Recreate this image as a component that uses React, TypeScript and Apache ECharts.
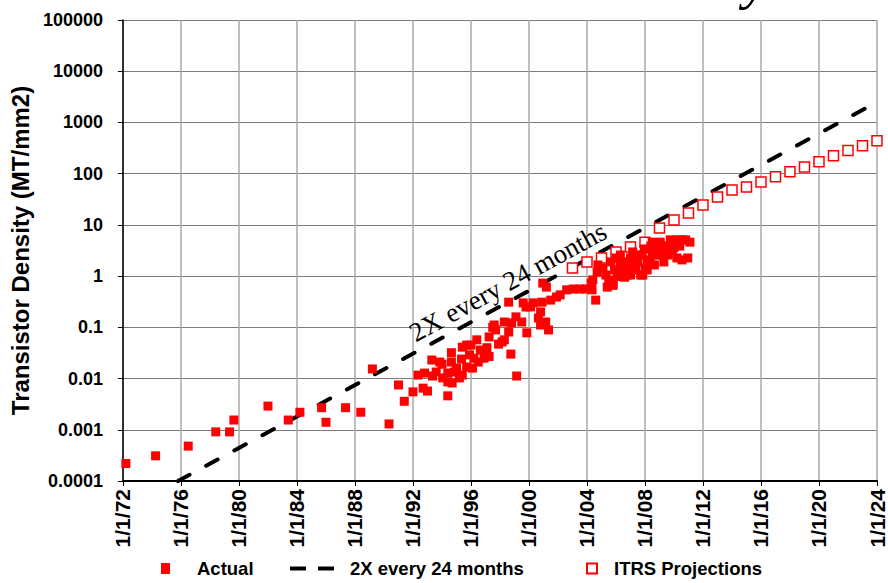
import React, { useEffect, useRef } from "react";
import * as echarts from "echarts";

// ---------- data ----------
const xTickLabels = ["1/1/72", "1/1/76", "1/1/80", "1/1/84", "1/1/88", "1/1/92", "1/1/96", "1/1/00", "1/1/04", "1/1/08", "1/1/12", "1/1/16", "1/1/20", "1/1/24"];
const yTickLabels = ["0.0001", "0.001", "0.01", "0.1", "1", "10", "100", "1000", "10000", "100000"];

const actualYears = [
  1972.2, 1974.25, 1976.5, 1978.4, 1979.35, 1979.65, 1982.0, 1983.4, 1984.2, 1985.7, 1986.0, 1987.35, 1988.4, 1989.2, 1990.35, 1991.0, 1991.4,
  1992.0, 1992.35, 1992.8, 1992.7, 1993.0, 1993.3, 1993.35, 1993.6, 1993.85, 1994.0, 1994.05, 1994.4, 1994.4, 1994.4, 1994.65, 1994.65, 1994.7, 1994.85,
  1995.0, 1995.2, 1995.35, 1995.4, 1995.4, 1995.7, 1995.7, 1995.9, 1996.0, 1996.1, 1996.2, 1996.4, 1996.5, 1996.65, 1996.9, 1997.1, 1997.25, 1997.25,
  1997.5, 1997.6, 1997.7, 1997.9, 1998.15, 1998.3, 1998.3, 1998.6, 1998.6, 1998.75, 1998.8, 1999.1, 1999.15, 1999.5, 1999.6, 1999.8, 1999.85,
  2000.1, 2000.3, 2000.65, 2000.8, 2000.8, 2000.9, 2000.95, 2001.15, 2001.2, 2001.35, 2001.5, 2001.9, 2002.15, 2002.6, 2003.05, 2003.5, 2003.9,
  2004.3, 2004.35, 2004.4, 2004.6, 2004.7, 2004.75, 2005.1, 2005.3, 2005.4, 2005.5, 2005.65, 2005.8, 2006.0, 2006.15, 2006.3, 2006.45, 2006.6,
  2006.8, 2007.0, 2007.0, 2007.15, 2007.35, 2007.5, 2007.7, 2007.8, 2007.95, 2008.15, 2008.15, 2008.4, 2008.5, 2008.5, 2008.65, 2008.85, 2009.05,
  2009.2, 2009.3, 2009.5, 2009.75, 2009.9, 2010.0, 2010.2, 2010.2, 2010.4, 2010.55, 2010.55, 2010.8, 2010.95, 2011.1,
  2005.9, 2006.3, 2006.8, 2007.3, 2007.6, 2008.0, 2008.35, 2008.7, 2009.0, 2009.4, 2009.2, 2010.0, 2009.6, 2007.85, 2006.6, 2006.1, 2007.0, 2008.5, 2005.8
];
const actualValues = [
  0.00022, 0.00031, 0.00048, 0.00091, 0.00091, 0.00155, 0.0029, 0.00155, 0.0022, 0.0027, 0.0014, 0.0027, 0.0022, 0.0154, 0.0013, 0.0075, 0.0036,
  0.0055, 0.0117, 0.0128, 0.0065, 0.0057, 0.023, 0.0112, 0.0134, 0.021, 0.019, 0.0103, 0.0128, 0.0086, 0.0046, 0.032, 0.021, 0.0082, 0.0134,
  0.016, 0.0103, 0.024, 0.041, 0.0117, 0.0168, 0.045, 0.029, 0.045, 0.016, 0.025, 0.057, 0.021, 0.036, 0.025, 0.04, 0.065, 0.027,
  0.1, 0.111, 0.089, 0.047, 0.052, 0.127, 0.057, 0.081, 0.31, 0.03, 0.122, 0.16, 0.0112, 0.127, 0.3, 0.25, 0.078,
  0.25, 0.3, 0.152, 0.2, 0.111, 0.31, 0.73, 0.127, 0.61, 0.089, 0.34, 0.39, 0.43, 0.54, 0.56, 0.56, 0.56,
  0.73, 0.54, 0.84, 0.34, 1.2, 1.65, 1.44, 1.05, 0.61, 0.84, 1.89, 0.73, 2.26, 1.32, 2.58, 1.89, 1.32,
  1.65, 2.26, 1.05, 2.96, 1.32, 1.89, 1.05, 2.58, 3.39, 1.89, 1.32, 3.87, 2.58, 4.6, 1.65, 3.39, 4.6,
  2.58, 1.89, 3.87, 5.1, 3.2, 4.6, 5.1, 2.26, 3.87, 5.1, 2.07, 5.1, 2.26, 4.6,
  1.32, 1.65, 1.05, 1.89, 2.58, 1.44, 2.07, 2.58, 3.2, 3.2, 3.87, 3.6, 2.58, 1.05, 0.95, 0.98, 1.44, 3.39, 0.66
];

const trendYears = [1975.8, 2024];
const trendValues = [0.0001, 2500];

const itrsYears = [2003, 2004, 2005, 2006, 2007, 2008, 2009, 2010, 2011, 2012, 2013, 2014, 2015, 2016, 2017, 2018, 2019, 2020, 2021, 2022, 2023, 2024];
const itrsValues = [1.44, 1.89, 2.26, 2.96, 3.7, 4.6, 8.7, 12.5, 17, 24.5, 35, 48, 55, 69, 87, 109, 135, 170, 223, 282, 350, 440];

const SANS = '"Liberation Sans", Arial, sans-serif';
const SERIF = '"Liberation Serif", "Times New Roman", serif';

export default function App() {
  const ref = useRef<HTMLDivElement>(null);
  useEffect(() => {
    if (!ref.current) return;
    const chart = echarts.init(ref.current, undefined, { renderer: "svg" });
    const actual = actualYears.map((y, i) => [y, actualValues[i]]);
    const trend = trendYears.map((y, i) => [y, trendValues[i]]);
    const itrs = itrsYears.map((y, i) => [y, itrsValues[i]]);
    const legendText = { fontFamily: SANS, fontWeight: "bold" as const, fontSize: 18.5, color: "#000" };
    chart.setOption({
      animation: false,
      backgroundColor: "#fff",
      grid: { left: 115, right: 11, top: 20, bottom: 102, containLabel: false },
      xAxis: {
        type: "value",
        min: 1972,
        max: 2024,
        interval: 4,
        axisLine: { show: true, onZero: false, lineStyle: { color: "#000", width: 2 } },
        axisTick: { show: true, length: 5, lineStyle: { color: "#000", width: 1 } },
        splitLine: { show: true, lineStyle: { color: "#a8a8a8", width: 1.5 } },
        axisLabel: {
          rotate: 90,
          margin: 8,
          fontFamily: SANS,
          fontWeight: "bold",
          fontSize: 21,
          color: "#000",
          formatter: (v: number) => xTickLabels[Math.round((v - 1972) / 4)] ?? "",
        },
      },
      yAxis: {
        type: "log",
        logBase: 10,
        min: 0.0001,
        max: 100000,
        name: "Transistor Density (MT/mm2)",
        nameLocation: "middle",
        nameGap: 86,
        nameTextStyle: { fontFamily: SANS, fontWeight: "bold", fontSize: 24, color: "#000" },
        axisLine: { show: true, lineStyle: { color: "#000", width: 1.5 } },
        axisTick: { show: true, length: 5, lineStyle: { color: "#000", width: 1 } },
        minorTick: { show: false },
        splitLine: { show: true, lineStyle: { color: "#7a7a7a", width: 1 } },
        axisLabel: {
          margin: 20,
          fontFamily: SANS,
          fontWeight: "bold",
          fontSize: 18,
          color: "#000",
          formatter: (v: number) => yTickLabels[Math.round(Math.log10(v)) + 4] ?? "",
        },
      },
      legend: [
        {
          data: ["Actual"],
          left: 161,
          top: 559,
          padding: 0,
          itemWidth: 9,
          itemHeight: 11,
          textStyle: { ...legendText, padding: [0, 0, 0, 22] },
        },
        {
          data: [{ name: "2X every 24 months", icon: "path://M0,0H16V4H0Z M28,0H44V4H28Z" }],
          left: 290,
          top: 559,
          padding: 0,
          itemWidth: 44,
          itemHeight: 4,
          textStyle: { ...legendText, padding: [0, 0, 0, 11] },
        },
        {
          data: ["ITRS Projections"],
          left: 586,
          top: 559,
          padding: 0,
          itemWidth: 10,
          itemHeight: 10,
          textStyle: { ...legendText, padding: [0, 0, 0, 12] },
        },
      ],
      series: [
        {
          name: "2X every 24 months",
          type: "line",
          data: trend,
          symbol: "none",
          itemStyle: { color: "#000" },
          lineStyle: { color: "#000", width: 4, type: [13, 19], cap: "round" },
          z: 3,
        },
        {
          name: "ITRS Projections",
          type: "scatter",
          data: itrs,
          symbol: "rect",
          symbolSize: 10,
          itemStyle: { color: "#fff", borderColor: "#ff0000", borderWidth: 1.5, opacity: 1 },
          z: 4,
        },
        {
          name: "Actual",
          type: "scatter",
          data: actual,
          symbol: "rect",
          symbolSize: 9,
          itemStyle: { color: "#ff0000", opacity: 1 },
          z: 5,
        },
      ],
      graphic: [
        {
          type: "text",
          x: 508,
          y: 282,
          rotation: 0.5,
          style: {
            text: "2X every 24 months",
            fontFamily: SERIF,
            fontSize: 27,
            fill: "#000",
            textAlign: "center",
            textVerticalAlign: "middle",
          },
          z: 10,
        },
        {
          type: "text",
          x: 756,
          y: -21,
          style: {
            text: "y",
            fontFamily: SERIF,
            fontStyle: "italic",
            fontSize: 56,
            fill: "#000",
            textAlign: "center",
            textVerticalAlign: "middle",
          },
          z: 10,
        },
      ],
    });
    return () => chart.dispose();
  }, []);
  return <div ref={ref} style={{ position: "absolute", left: 0, top: 0, width: 888, height: 583 }} />;
}
